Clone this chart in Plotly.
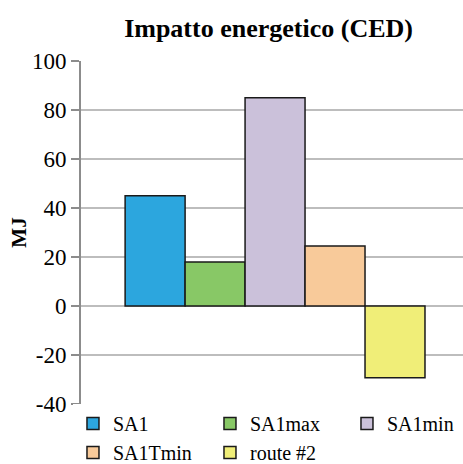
import plotly.graph_objects as go

series = ["SA1", "SA1max", "SA1min", "SA1Tmin", "route #2"]
values = [45, 18, 85, 24.5, -29.3]
colors = ["#2CA6DE", "#88C866", "#CBC1DA", "#F8CA9A", "#F0EE78"]
category = [""]
tick_vals = [-40, -20, 0, 20, 40, 60, 80, 100]
tick_text = ["-40", "-20", "0", "20", "40", "60", "80", "100"]

fig = go.Figure()
for name, v, c in zip(series, values, colors):
    fig.add_trace(go.Bar(x=category, y=[v], name=name,
                         marker=dict(color=c, line=dict(color="#1a1a1a", width=1.5))))

serif = "Liberation Serif"
fig.update_layout(
    width=463, height=464,
    margin=dict(l=81, r=0, t=61, b=60, autoexpand=False),
    paper_bgcolor="white", plot_bgcolor="white",
    barmode="group", bargap=0.215, bargroupgap=0,
    title=dict(text="<b>Impatto energetico (CED)</b>", x=0.58, xanchor="center",
               y=0.94, yanchor="middle", font=dict(family=serif, size=26, color="black")),
    font=dict(family=serif, size=20, color="black"),
    xaxis=dict(type="category", range=[-0.508, 0.492], showticklabels=False,
               showgrid=False, zeroline=False, showline=False),
    yaxis=dict(range=[-40, 100], tickvals=tick_vals, ticktext=tick_text,
               showgrid=True, gridcolor="#BDBDBD", gridwidth=1.5,
               zeroline=False, showline=True, linecolor="#8C8C8C", linewidth=2,
               ticks="outside", ticklen=8, tickcolor="#8C8C8C", tickwidth=1.5,
               tickfont=dict(family=serif, size=23, color="black"),
               title=dict(text="<b>MJ</b>", font=dict(family=serif, size=21, color="black"), standoff=0)),
    legend=dict(orientation="h", x=-0.021, xanchor="left", y=-0.0001, yanchor="top",
                entrywidth=92, entrywidthmode="pixels", tracegroupgap=0,
                font=dict(family=serif, size=20, color="black"), itemwidth=30),
    showlegend=True,
)
fig.write_html("out.html")
